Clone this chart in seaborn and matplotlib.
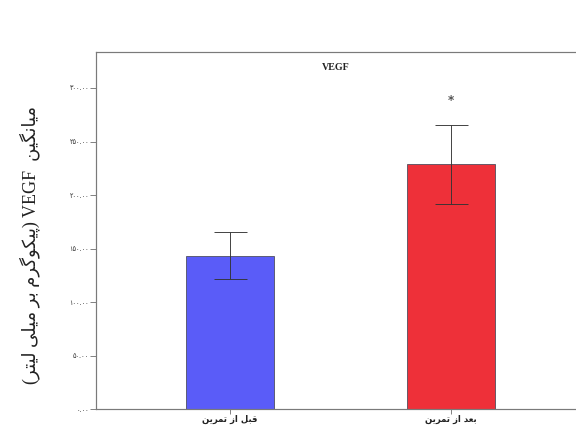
import matplotlib
matplotlib.use("Agg")
import matplotlib.pyplot as plt
import seaborn as sns
import pandas as pd

# ---- data ----
categories = ["قبل از تمرین", "بعد از تمرین"]
means = [143.3, 228.7]
errors = [22.0, 36.8]
yticks = [0, 50, 100, 150, 200, 250, 300]
title = "VEGF"
ylabel_fa_1 = "میانگین"
ylabel_fa_2 = "پیکوگرم بر میلی لیتر"
colors = ["#5a5cf8", "#ee3039"]

# ---- minimal Persian shaping (presentation forms + visual order) ----
FORMS = {
    'ا': ('\uFE8D', '\uFE8E', None, None),
    'ب': ('\uFE8F', '\uFE90', '\uFE91', '\uFE92'),
    'پ': ('\uFB56', '\uFB57', '\uFB58', '\uFB59'),
    'ت': ('\uFE95', '\uFE96', '\uFE97', '\uFE98'),
    'د': ('\uFEA9', '\uFEAA', None, None),
    'ر': ('\uFEAD', '\uFEAE', None, None),
    'ز': ('\uFEAF', '\uFEB0', None, None),
    'ع': ('\uFEC9', '\uFECA', '\uFECB', '\uFECC'),
    'ق': ('\uFED5', '\uFED6', '\uFED7', '\uFED8'),
    'ک': ('\uFB8E', '\uFB8F', '\uFB90', '\uFB91'),
    'گ': ('\uFB92', '\uFB93', '\uFB94', '\uFB95'),
    'ل': ('\uFEDD', '\uFEDE', '\uFEDF', '\uFEE0'),
    'م': ('\uFEE1', '\uFEE2', '\uFEE3', '\uFEE4'),
    'ن': ('\uFEE5', '\uFEE6', '\uFEE7', '\uFEE8'),
    'و': ('\uFEED', '\uFEEE', None, None),
    'ی': ('\uFBFC', '\uFBFD', '\uFBFE', '\uFBFF'),
}


def fa(s):
    out = []
    for i, c in enumerate(s):
        if c not in FORMS:
            out.append(c)
            continue
        prev = s[i - 1] if i > 0 else None
        nxt = s[i + 1] if i + 1 < len(s) else None
        jp = prev in FORMS and FORMS[prev][2] is not None
        jn = nxt in FORMS and FORMS[c][2] is not None
        iso, fin, ini, med = FORMS[c]
        if jp and jn:
            out.append(med)
        elif jp:
            out.append(fin)
        elif jn:
            out.append(ini)
        else:
            out.append(iso)
    return "".join(out)[::-1]


def fa_num(v):
    return f"{v:.2f}".translate(str.maketrans("0123456789", "۰۱۲۳۴۵۶۷۸۹"))


df = pd.DataFrame({"group": categories, "mean": means})

sns.set_style("white")
plt.rcParams['font.family'] = ['DejaVu Sans']

fig = plt.figure(figsize=(8, 6), dpi=72)
ax = fig.add_axes([0.1667, 0.0525, 0.8333, 0.827])

sns.barplot(data=df, x="group", y="mean", hue="group", palette=colors,
            width=0.40, errorbar=None, legend=False, ax=ax,
            edgecolor="#4a4a5a", linewidth=0.8, saturation=1)
ax.errorbar(range(len(means)), means, yerr=errors, fmt="none",
            ecolor="#333333", elinewidth=0.9, capsize=16.5, capthick=0.9)

ax.text(1, means[1] + errors[1] + 23, "*", ha="center", va="center",
        fontsize=12, fontweight="bold", color="#555555")

ax.set_xlim(-0.606, 1.566)
ax.set_ylim(0, 333.5)
ax.set_yticks(yticks)
ax.set_yticklabels([fa_num(v) for v in yticks], fontsize=6.5, color="#333333")
ax.set_xticks(range(len(categories)))
ax.set_xticklabels([fa(c) for c in categories], fontsize=8.5, fontweight="bold",
                   color="#222222")
ax.tick_params(axis="y", length=6, width=0.8, color="#666666", pad=1, direction="out", left=True)
ax.tick_params(axis="x", length=5, width=0.8, color="#666666", pad=1, direction="out", bottom=True)

for side in ["left", "bottom", "top"]:
    ax.spines[side].set_visible(True)
    ax.spines[side].set_color("#7a7a7a")
    ax.spines[side].set_linewidth(1.2)
ax.spines["right"].set_visible(False)

ax.set_xlabel("")
ylabel = "(" + fa(ylabel_fa_2) + ") VEGF  " + fa(ylabel_fa_1)
ax.set_ylabel(ylabel, fontsize=18, family=['Liberation Serif', 'DejaVu Sans'],
              color="#222222")
ax.yaxis.set_label_coords(-0.117, 0.46)
ax.set_title(title, fontsize=10, fontweight="bold", family="Liberation Serif",
             pad=-18, color="#222222")

fig.savefig("out.png", dpi=72)
